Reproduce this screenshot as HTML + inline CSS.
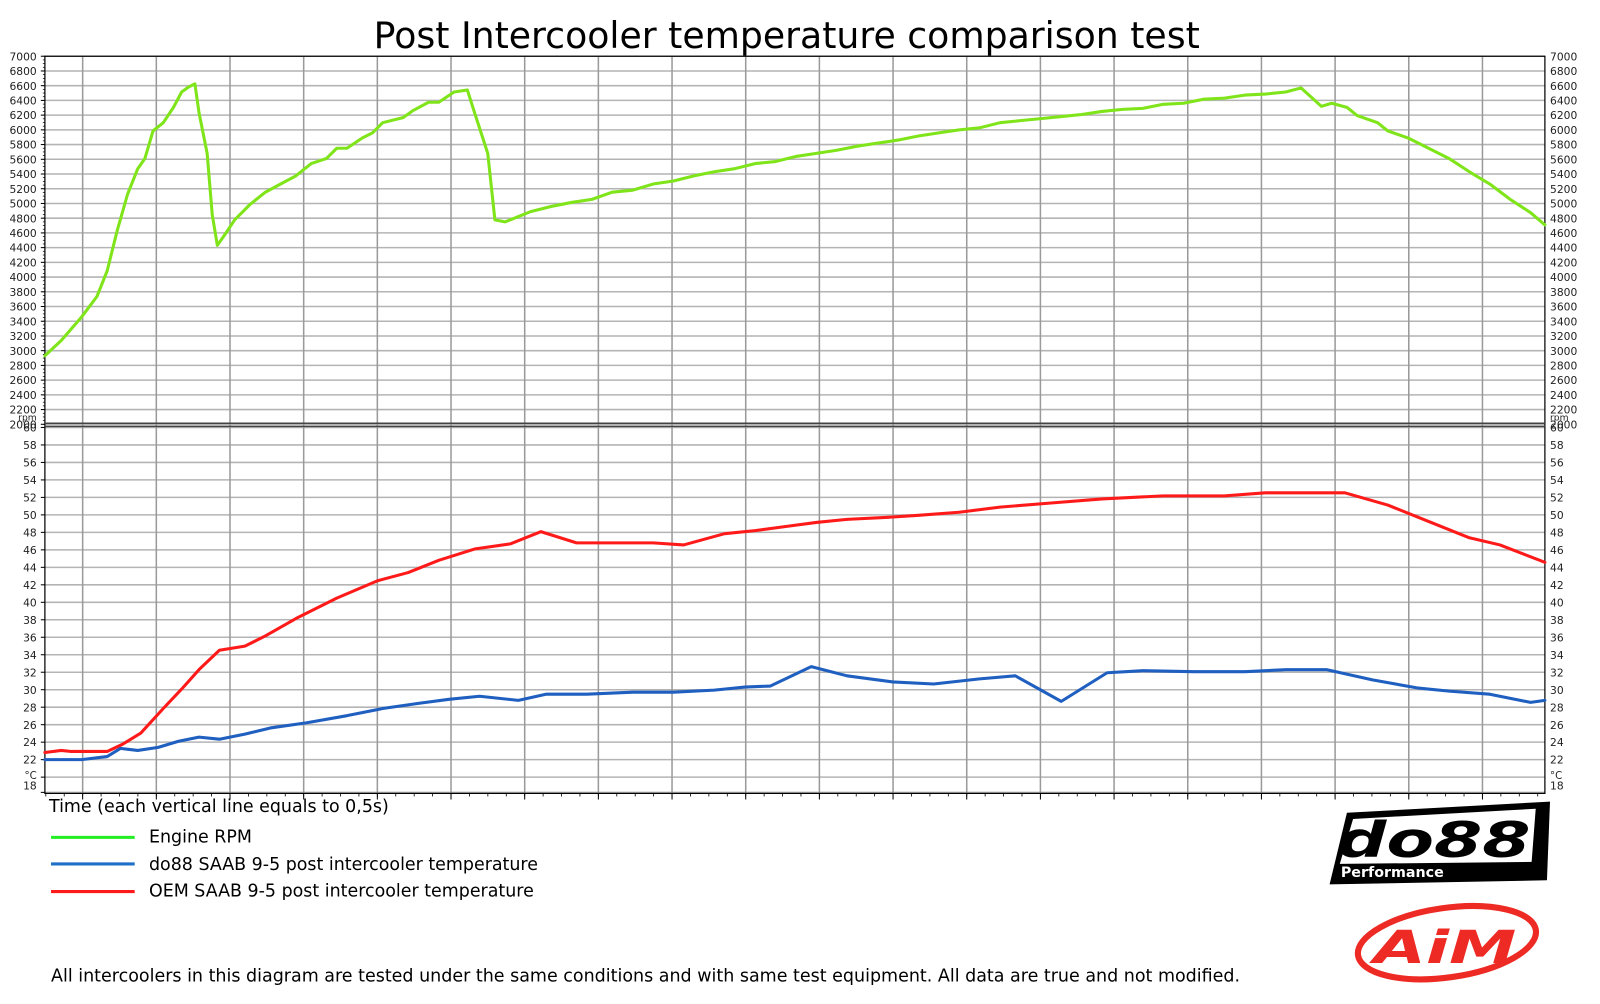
<!DOCTYPE html>
<html><head><meta charset="utf-8">
<style>
html,body{margin:0;padding:0;background:#fff;}
svg{display:block;}
text{font-family:"DejaVu Sans","Liberation Sans",sans-serif;}
</style></head>
<body>
<svg id="s" width="1600" height="1004" viewBox="0 0 1568 982" preserveAspectRatio="none" xmlns="http://www.w3.org/2000/svg">
<rect width="1568" height="982" fill="#fff"/>
<text x="771" y="47" font-size="35.5" text-anchor="middle" fill="#000">Post Intercooler temperature comparison test</text>
<g id="grid"></g>
<g id="series" fill="none" stroke-width="3" stroke-linejoin="round" stroke-linecap="round">
<polyline stroke="#7fe51a" points="44,348 60,333 80,310 95,290 105,265 115,225 125,190 135,165 142,155 150,128 160,120 170,105 178,90 185,85 191,82 195,110 203,150 208,210 213,240 220,230 230,215 245,200 260,188 275,180 290,172 305,160 320,155 330,145 340,145 355,135 365,130 375,120 395,115 405,108 420,100 430,100 445,90 458,88 465,110 478,150 485,215 495,217 505,213 520,207 540,202 560,198 580,195 600,188 620,186 640,180 660,177 680,172 700,168 720,165 740,160 760,158 780,153 800,150 820,147 840,143 860,140 880,137 900,133 920,130 940,127 960,125 980,120 1000,118 1020,116 1040,114 1060,112 1080,109 1100,107 1120,106 1140,102 1160,101 1180,97 1200,96 1220,93 1240,92 1260,90 1275,86 1285,95 1295,104 1305,101 1320,105 1330,113 1350,120 1360,128 1380,135 1400,145 1420,155 1440,168 1460,180 1480,195 1500,208 1514,220"/>
<polyline stroke="#ff1a1a" points="44,736 60,734 70,735 105,735 120,728 138,717 160,693 178,674 195,655 215,636 240,632 260,622 290,605 330,585 370,568 400,560 430,548 465,537 500,532 530,520 565,531 600,531 640,531 670,533 710,522 740,519 770,515 800,511 830,508 870,506 900,504 940,501 980,496 1030,492 1080,488 1140,485 1200,485 1240,482 1280,482 1318,482 1360,494 1400,510 1440,526 1470,533 1514,550"/>
<polyline stroke="#1f5fc0" points="44,743 80,743 105,740 118,732 135,734 155,731 175,725 195,721 215,723 240,718 265,712 300,707 340,700 375,693 410,688 440,684 470,681 508,685 535,679 575,679 620,677 660,677 700,675 730,672 755,671 795,652 830,661 875,667 915,669 960,664 995,661 1040,686 1085,658 1120,656 1170,657 1220,657 1260,655 1300,655 1345,665 1390,673 1420,676 1460,679 1500,687 1514,685"/>
</g>
<g font-size="17.1" fill="#000">
<text x="48" y="794">Time (each vertical line equals to 0,5s)</text>
<line x1="50" y1="819" x2="132" y2="819" stroke="#22ee22" stroke-width="3"/>
<text x="146" y="824">Engine RPM</text>
<line x1="50" y1="845" x2="132" y2="845" stroke="#1f6fc8" stroke-width="3"/>
<text x="146" y="851">do88 SAAB 9-5 post intercooler temperature</text>
<line x1="50" y1="872" x2="132" y2="872" stroke="#ff1a1a" stroke-width="3"/>
<text x="146" y="877">OEM SAAB 9-5 post intercooler temperature</text>
<text x="50" y="960" font-size="17.15">All intercoolers in this diagram are tested under the same conditions and with same test equipment. All data are true and not modified.</text>
</g>
<polygon points="1320,795 1519,784 1516,861 1303,865" fill="#000"/>
<polygon points="1326,801 1505,791 1501,843 1313,845" fill="#fff"/>
<text x="1310" y="838" font-size="48" font-weight="bold" font-style="italic" fill="#000" font-family="Liberation Sans,sans-serif" textLength="190" lengthAdjust="spacingAndGlyphs">do88</text>
<text x="1314" y="858" font-size="14" font-weight="bold" fill="#fff" font-family="Liberation Sans,sans-serif">Performance</text>
<ellipse cx="1418" cy="922" rx="88" ry="34" fill="none" stroke="#ee2a24" stroke-width="6" transform="rotate(-8 1418 922)"/>
<text x="1346" y="942" font-size="44" font-weight="bold" font-style="italic" fill="#ee2a24" font-family="Liberation Sans,sans-serif" textLength="140" lengthAdjust="spacingAndGlyphs">AiM</text>
</svg>
<script>
(function(){
var NS="http://www.w3.org/2000/svg",g=document.getElementById('grid');
function el(n,a,t){var e=document.createElementNS(NS,n);for(var k in a)e.setAttribute(k,a[k]);if(t!==undefined)e.textContent=t;g.appendChild(e);return e;}
var L=44,R=1514,T=55,D=415,B=776;
function yr(v){return 127+(6000-v)*0.072;}
function yt(t){return 743-(t-22)*8.55;}
for(var v=2000;v<=7000;v+=200){var y=yr(v);if(y<T)y=T+1;
 el('line',{x1:L,x2:R,y1:y,y2:y,stroke:'#b4b4b4','stroke-width':1.5});
 el('text',{x:36,y:y+4,'font-size':10.5,'text-anchor':'end',fill:'#222'},v);
 el('text',{x:1519,y:y+4,'font-size':10.5,fill:'#222'},v);
 el('line',{x1:L-4,x2:L,y1:y,y2:y,stroke:'#000'});}
for(var v=2000;v<=7000;v+=50){var y=yr(v);if(y<T)continue;el('line',{x1:L-2,x2:L,y1:y,y2:y,stroke:'#000','stroke-width':0.7});}
for(var t=18;t<=60;t+=2){var y=yt(t);if(y<D+3)y=D+4;if(y>B)y=B-1;
 el('line',{x1:L,x2:R,y1:y,y2:y,stroke:'#b4b4b4','stroke-width':1.5});
 el('line',{x1:L-4,x2:L,y1:y,y2:y,stroke:'#000'});
 if(t==20)continue;
 var ly=(t==18)?772:y+4;
 el('text',{x:36,y:ly,'font-size':10.5,'text-anchor':'end',fill:'#222'},t);
 el('text',{x:1519,y:ly,'font-size':10.5,fill:'#222'},t);}
el('text',{x:36,y:yt(20)+2,'font-size':10,'text-anchor':'end',fill:'#222'},'°C');
el('text',{x:1519,y:yt(20)+2,'font-size':10,fill:'#222'},'°C');
el('text',{x:36,y:yr(2050),'font-size':9,'text-anchor':'end',fill:'#222'},'rpm');
el('text',{x:1519,y:yr(2050),'font-size':9,fill:'#222'},'rpm');
for(var i=0;i<20;i++){var x=81+72.2*i;
 el('line',{x1:x,x2:x,y1:T,y2:B,stroke:'#9a9a9a','stroke-width':1.5});
 el('line',{x1:x,x2:x,y1:B,y2:B+6,stroke:'#000'});}
for(var x=81-72.2;x<R;x+=18.05){if(x<L)continue;el('line',{x1:x,x2:x,y1:B,y2:B+3,stroke:'#000','stroke-width':0.8});}
el('rect',{x:L,y:T,width:R-L,height:B-T,fill:'none',stroke:'#000','stroke-width':1.2});
el('line',{x1:L,x2:R,y1:D-1,y2:D-1,stroke:'#444','stroke-width':1.5});
el('line',{x1:L,x2:R,y1:D+2,y2:D+2,stroke:'#444','stroke-width':1.5});
})();
</script>
</body></html>
